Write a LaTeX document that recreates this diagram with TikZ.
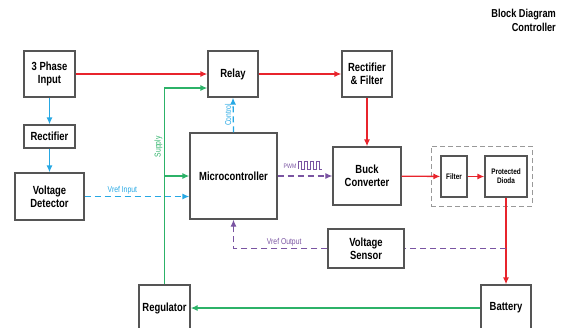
\documentclass[tikz,border=0pt]{standalone}
\usepackage{fontspec}
\setmainfont{Liberation Sans}[FakeStretch=0.8]
\usetikzlibrary{arrows.meta}
\definecolor{wirered}{RGB}{232,36,44}
\definecolor{wireblue}{RGB}{38,168,228}
\definecolor{wiregreen}{RGB}{44,178,104}
\definecolor{wirepurple}{RGB}{122,84,162}
\definecolor{boxgray}{RGB}{85,85,85}
\tikzset{
  block/.style={draw=boxgray, line width=1.3pt, fill=white, align=center, inner sep=0pt,
    font=\bfseries\fontsize{11.8}{13}\selectfont},
  small block/.style={block, font=\bfseries\fontsize{8}{9}\selectfont},
  tip/.style={-{Latex[length=7pt,width=6pt]}},
  power/.style={draw=wirered, line width=1.3pt, tip},
  feed/.style={draw=wireblue, line width=1.3pt, tip},
  supply/.style={draw=wiregreen, line width=1.3pt},
  ctrl/.style={feed, dash pattern=on 6pt off 4pt},
  sense/.style={draw=wirepurple, line width=1.1pt, dash pattern=on 6pt off 4pt},
  lbl/.style={font=\fontsize{8.5}{9}\selectfont, inner sep=1.5pt}
}
\begin{document}
\begin{tikzpicture}[x=1pt, y=-1pt]
    \useasboundingbox (0,0) rectangle (561,327);
    \clip (0,0) rectangle (561,327);

    % blocks
    \node[block, minimum width=51pt, minimum height=46pt] (inp) at (49.5,74) {3 Phase\\Input};
    \node[block, minimum width=50pt, minimum height=46pt] (relay) at (233,74) {Relay};
    \node[block, minimum width=50pt, minimum height=46pt] (rectf) at (367,74) {Rectifier\\\& Filter};
    \node[block, minimum width=51pt, minimum height=23pt] (rect) at (49.5,136.5) {Rectifier};
    \node[block, minimum width=69pt, minimum height=47pt] (vdet) at (49.5,196.5) {Voltage\\Detector};
    \node[block, minimum width=87pt, minimum height=86pt] (mcu) at (233.5,176) {Microcontroller};
    \node[block, minimum width=68pt, minimum height=58pt] (buck) at (367,176) {Buck\\Converter};
    \node[draw=boxgray!60, line width=1pt, dash pattern=on 5pt off 3pt, minimum width=101pt, minimum height=60pt] (grp) at (481.5,176) {};
    \node[small block, minimum width=26pt, minimum height=41pt] (filt) at (454,176.5) {Filter};
    \node[small block, minimum width=42pt, minimum height=41pt] (pdio) at (506,176.5) {Protected\\Dioda};
    \node[block, minimum width=76pt, minimum height=39pt] (vsens) at (366,248.5) {Voltage\\Sensor};
    \node[block, minimum width=50pt, minimum height=46pt] (batt) at (506,308) {Battery};
    \node[block, minimum width=51pt, minimum height=46pt] (reg) at (164.5,308) {Regulator};

    \node[anchor=north east, align=right, inner sep=0pt, font=\bfseries\fontsize{11.5}{14}\selectfont] (title) at (556,9) {Block Diagram\\Controller};

    % power path
    \draw[power] (inp) -- (relay);
    \draw[power] (relay) -- (rectf);
    \draw[power] (rectf) -- (buck);
    \draw[power] (buck) -- (filt);
    \draw[power] (filt) -- (pdio);
    \draw[power] (pdio) -- (batt);

    % sensing
    \draw[feed] (inp) -- (rect);
    \draw[feed] (rect) -- (vdet);
    \draw[ctrl] (vdet.east) -- node[lbl, above, wireblue, pos=0.36] {Vref Input} (vdet.east -| mcu.west);
    \draw[ctrl] (mcu.north) -- node[lbl, above, wireblue, rotate=90] {Control} (relay.south);

    % supply
    \coordinate (bend) at (164.5,88);
    \draw[supply, tip] (reg.north) -- node[lbl, above, wiregreen, rotate=90, pos=0.7] {Supply} (bend) -- (bend -| relay.west);
    \draw[supply, tip] (reg.north |- mcu.west) -- (mcu.west);
    \draw[supply, tip] (batt.west) -- (reg.east);

    % pwm and feedback
    \draw[sense, tip] (mcu.east) -- (buck.west);
    \node[lbl, wirepurple, font=\fontsize{6.5}{7}\selectfont] (pwm) at (290,166) {PWM};
    \draw[wirepurple, line width=0.7pt] (298,169)
      \foreach \i in {1,...,4} { -- ++(0,-8) -- ++(3,0) -- ++(0,8) -- ++(3,0) };
    \coordinate (tap) at (pdio.south |- vsens.east);
    \draw[sense] (tap) -- (vsens.east);
    \draw[sense, tip] (vsens.west) -| node[lbl, above, wirepurple, pos=0.23] {Vref Output} (mcu.south);
\end{tikzpicture}
\end{document}
